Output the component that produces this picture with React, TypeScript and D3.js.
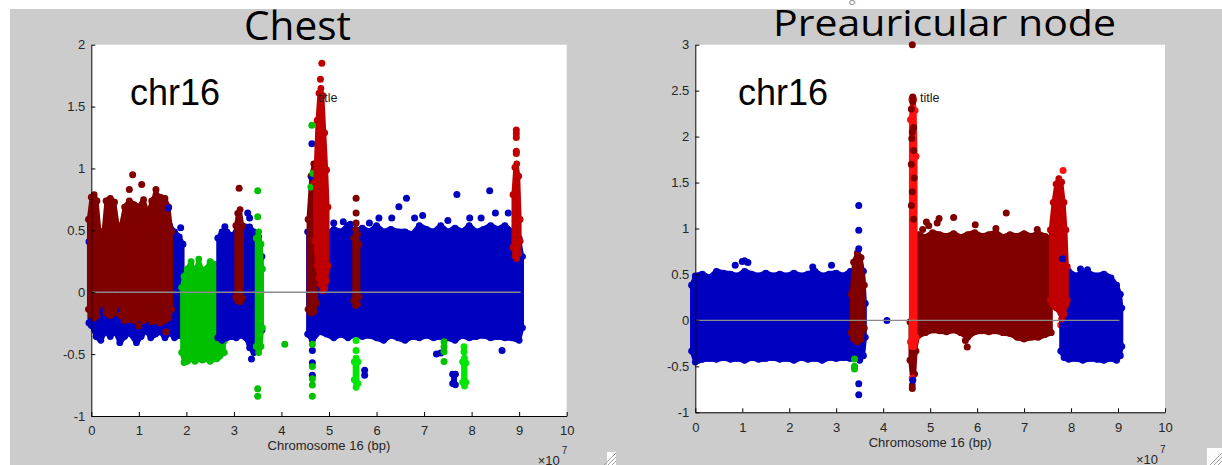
import React, { useEffect, useRef } from "react";
import * as d3 from "d3";

// positions along the chromosome are in units of 1e7 bp, as on the axis
type Band = [number, number, number][]; // [x, upper, lower]
type Dots = [number, number][];

const xTicks = [0, 1, 2, 3, 4, 5, 6, 7, 8, 9, 10];
const chestYTicks = [-1, -0.5, 0, 0.5, 1, 1.5, 2];
const nodeYTicks = [-1, -0.5, 0, 0.5, 1, 1.5, 2, 2.5, 3];
const chrEnd = 9.03;

/* ---------- Chest ---------- */
const chestBlue1: Band = [
  [-0.05, 0.42, -0.26], [0.0, 0.46, -0.28], [0.1, 0.48, -0.37], [0.2, 0.5, -0.4],
  [0.3, 0.52, -0.33], [0.4, 0.5, -0.37], [0.5, 0.5, -0.33], [0.6, 0.52, -0.42],
  [0.7, 0.5, -0.37], [0.8, 0.5, -0.34], [0.95, 0.5, -0.42], [1.05, 0.52, -0.37],
  [1.15, 0.5, -0.32], [1.25, 0.55, -0.38], [1.35, 0.5, -0.35], [1.45, 0.55, -0.33],
  [1.55, 0.5, -0.38], [1.65, 0.55, -0.34], [1.75, 0.5, -0.38], [1.85, 0.46, -0.36],
  [1.93, 0.4, -0.35],
];
const chestGreen: Band = [
  [1.9, 0.05, -0.5], [1.95, 0.14, -0.58], [2.02, 0.2, -0.57], [2.1, 0.26, -0.55],
  [2.18, 0.17, -0.57], [2.26, 0.28, -0.55], [2.34, 0.18, -0.56], [2.42, 0.2, -0.55],
  [2.5, 0.26, -0.57], [2.58, 0.24, -0.55], [2.64, 0.12, -0.55], [2.7, -0.3, -0.53],
  [2.8, -0.38, -0.5],
];
const chestBlue2: Band = [
  [2.66, 0.45, -0.38], [2.75, 0.5, -0.4], [2.85, 0.5, -0.38], [2.95, 0.47, -0.37],
  [3.05, 0.5, -0.38], [3.15, 0.5, -0.36], [3.25, 0.54, -0.38], [3.33, 0.54, -0.46],
  [3.42, 0.5, -0.5], [3.52, 0.46, -0.46], [3.59, 0.3, -0.32],
];
const chestBlue3: Band = [
  [4.55, 0.5, -0.35], [4.65, 0.55, -0.4], [4.8, 0.5, -0.33], [4.95, 0.48, -0.35],
  [5.1, 0.52, -0.38], [5.25, 0.5, -0.35], [5.4, 0.55, -0.38], [5.55, 0.5, -0.35],
  [5.7, 0.53, -0.37], [5.85, 0.5, -0.36], [6.0, 0.55, -0.38], [6.15, 0.5, -0.4],
  [6.3, 0.52, -0.36], [6.45, 0.5, -0.38], [6.6, 0.5, -0.4], [6.75, 0.48, -0.37],
  [6.9, 0.55, -0.38], [7.05, 0.52, -0.36], [7.2, 0.5, -0.38], [7.35, 0.55, -0.37],
  [7.5, 0.5, -0.38], [7.65, 0.53, -0.4], [7.8, 0.5, -0.36], [7.95, 0.55, -0.38],
  [8.1, 0.5, -0.37], [8.25, 0.52, -0.36], [8.4, 0.55, -0.38], [8.55, 0.52, -0.37],
  [8.7, 0.55, -0.38], [8.85, 0.5, -0.38], [9.0, 0.45, -0.4], [9.07, 0.3, -0.3],
];
const chestDark1: Band = [[-0.06, 0.6, -0.15], [0.0, 0.78, -0.2], [0.06, 0.8, -0.22], [0.12, 0.75, -0.2], [0.18, 0.5, -0.1]];
const chestDark2: Band = [[0.25, 0.5, -0.1], [0.31, 0.75, -0.18], [0.4, 0.77, -0.2], [0.49, 0.74, -0.18], [0.56, 0.55, -0.1]];
const chestDark3: Band = [
  [0.62, 0.55, -0.2], [0.7, 0.7, -0.24], [0.8, 0.75, -0.23], [0.9, 0.72, -0.24],
  [1.0, 0.7, -0.22], [1.1, 0.76, -0.24], [1.19, 0.65, -0.22],
];
const chestDark4: Band = [
  [1.17, 0.62, -0.2], [1.27, 0.75, -0.25], [1.36, 0.8, -0.24], [1.45, 0.78, -0.26],
  [1.55, 0.77, -0.24], [1.63, 0.7, -0.22], [1.69, 0.5, -0.15],
];
const chestDark5: Band = [[3.04, 0.55, -0.05], [3.08, 0.65, -0.08], [3.13, 0.68, -0.09], [3.18, 0.55, -0.06]];
const chestDark6: Band = [[4.56, 0.6, -0.15], [4.62, 0.95, -0.18], [4.68, 1.05, -0.17], [4.74, 0.8, -0.1]];
const chestDark7: Band = [[5.52, 0.45, -0.08], [5.56, 0.52, -0.12], [5.6, 0.48, -0.11], [5.63, 0.4, -0.05]];
const chestGreenCol: Band = [[3.47, 0.45, -0.45], [3.52, 0.5, -0.5], [3.57, 0.4, -0.45], [3.6, 0.2, -0.3]];
const chestLimeCol1: Band = [[5.53, -0.55, -0.72], [5.57, -0.52, -0.78], [5.61, -0.55, -0.75]];
const chestLimeCol2: Band = [[7.81, -0.55, -0.74], [7.85, -0.52, -0.77], [7.88, -0.56, -0.74]];
const chestBlueCol: Band = [[7.6, -0.65, -0.75], [7.66, -0.65, -0.76]];
const chestRed1: Band = [
  [4.7, 0.9, 0.4], [4.75, 1.4, 0.2], [4.79, 1.62, 0.1], [4.83, 1.66, 0.05],
  [4.87, 1.6, 0.0], [4.91, 1.3, 0.02], [4.95, 1.0, 0.08], [4.98, 0.7, 0.2],
];
const chestRed2: Band = [[8.87, 0.8, 0.35], [8.91, 1.02, 0.28], [8.95, 1.05, 0.26], [8.99, 0.95, 0.3], [9.02, 0.6, 0.4]];

const chestBlueDots: Dots = [
  [1.62, 0.68], [1.88, 0.52], [2.81, 0.53], [3.29, 0.64], [3.33, 0.6], [3.37, -0.54],
  [4.64, 1.2], [4.64, 0.93], [4.65, -0.47], [4.65, -0.57], [4.65, -0.67],
  [5.1, 0.56], [5.3, 0.57], [5.45, 0.55], [5.75, -0.63], [5.75, -0.67], [5.85, 0.56],
  [6.05, 0.6], [6.32, 0.6], [6.47, 0.69], [6.63, 0.76], [6.8, 0.6], [6.97, 0.62],
  [7.26, -0.5], [7.35, -0.49], [7.5, 0.58], [7.69, 0.79], [7.96, 0.6], [8.2, 0.6],
  [8.38, 0.82], [8.5, 0.64], [8.64, -0.47], [8.77, 0.64],
];
const chestDarkDots: Dots = [
  [0.8, 0.83], [0.87, 0.95], [1.06, 0.87], [1.36, 0.83], [1.57, -0.32], [1.0, -0.27],
  [3.11, 0.84], [5.57, 0.76], [5.57, 0.64], [5.57, 0.56],
];
const chestRedDots: Dots = [[4.85, 1.85], [4.82, 1.72], [8.94, 1.31], [8.94, 1.28], [8.94, 1.25], [8.94, 1.14], [8.94, 1.12]];
const chestGreenDots: Dots = [
  [3.5, 0.82], [3.5, 0.61], [3.5, -0.78], [3.5, -0.84], [4.07, -0.42],
  [4.64, 1.35], [4.66, 0.96], [4.62, 0.85], [4.65, -0.42], [4.65, -0.6],
  [4.65, -0.7], [4.65, -0.75], [4.65, -0.84],
  [7.42, -0.4], [7.42, -0.44], [7.42, -0.48], [7.42, -0.56],
];
const chestLimeDots: Dots = [[5.57, -0.39], [5.57, -0.47], [7.84, -0.44], [7.84, -0.48]];

/* ---------- Preauricular node ---------- */
const nodeBlue1: Band = [
  [-0.08, 0.4, -0.35], [0.0, 0.5, -0.47], [0.15, 0.52, -0.44], [0.3, 0.48, -0.43],
  [0.45, 0.55, -0.44], [0.6, 0.53, -0.42], [0.75, 0.52, -0.44], [0.9, 0.5, -0.43],
  [1.05, 0.55, -0.45], [1.2, 0.52, -0.42], [1.35, 0.5, -0.44], [1.5, 0.53, -0.43],
  [1.65, 0.5, -0.42], [1.8, 0.52, -0.44], [1.95, 0.5, -0.43], [2.1, 0.53, -0.45],
  [2.25, 0.5, -0.42], [2.4, 0.52, -0.44], [2.55, 0.55, -0.43], [2.7, 0.5, -0.45],
  [2.85, 0.52, -0.42], [3.0, 0.53, -0.43], [3.15, 0.5, -0.42], [3.3, 0.55, -0.43],
  [3.4, 0.5, -0.4], [3.5, 0.7, -0.45], [3.58, 0.55, -0.4], [3.62, 0.2, -0.2],
];
const nodeDark1: Band = [[3.32, 0.3, -0.15], [3.37, 0.65, -0.22], [3.45, 0.75, -0.25], [3.53, 0.7, -0.22], [3.6, 0.4, -0.1]];
const nodeDarkCol: Band = [[4.57, 0.0, -0.45], [4.62, 0.0, -0.72], [4.67, 0.0, -0.6], [4.7, 0.0, -0.35]];
const nodeDarkBlock: Band = [
  [4.68, 0.9, -0.35], [4.75, 0.95, -0.18], [4.9, 0.92, -0.15], [5.05, 0.97, -0.12],
  [5.2, 0.95, -0.13], [5.35, 0.93, -0.14], [5.5, 0.96, -0.12], [5.65, 0.92, -0.15],
  [5.8, 0.95, -0.2], [5.95, 0.97, -0.14], [6.1, 0.93, -0.13], [6.25, 0.95, -0.14],
  [6.4, 0.97, -0.13], [6.55, 0.92, -0.15], [6.7, 0.95, -0.16], [6.85, 0.93, -0.2],
  [7.0, 0.96, -0.22], [7.15, 0.93, -0.2], [7.3, 0.96, -0.2], [7.45, 0.93, -0.17],
  [7.58, 0.9, -0.15],
];
const nodeBright: Band = [[4.58, 2.2, -0.25], [4.61, 2.42, -0.3], [4.65, 2.42, -0.3], [4.68, 2.3, -0.25], [4.7, 1.8, -0.2]];
const nodeBlue2: Band = [
  [7.78, 0.1, -0.35], [7.85, 0.52, -0.42], [7.95, 0.55, -0.44], [8.1, 0.5, -0.43],
  [8.25, 0.53, -0.45], [8.4, 0.52, -0.43], [8.55, 0.5, -0.44], [8.7, 0.52, -0.45],
  [8.85, 0.48, -0.43], [8.97, 0.4, -0.45], [9.05, 0.3, -0.4], [9.08, 0.15, -0.3],
];
const nodeRed: Band = [
  [7.56, 1.0, 0.2], [7.62, 1.3, 0.15], [7.68, 1.5, 0.12], [7.74, 1.56, 0.1],
  [7.8, 1.52, 0.0], [7.85, 1.3, 0.05], [7.89, 1.0, 0.15], [7.92, 0.6, 0.2],
];

const nodeBlueDots: Dots = [
  [0.85, 0.6], [1.0, 0.64], [1.05, 0.65], [1.12, 0.63], [2.5, 0.58], [2.9, 0.6],
  [3.48, 1.25], [3.48, 0.98], [3.48, 0.78], [3.48, -0.69], [3.48, -0.81], [4.08, 0.0],
  [4.63, -0.65], [7.82, 0.67], [8.2, 0.56], [8.35, 0.55],
];
const nodeDarkDots: Dots = [
  [4.62, 3.0], [4.63, 2.43], [4.63, 2.38], [4.6, 2.3], [4.65, 2.1], [4.62, 2.05],
  [4.61, 1.98], [4.65, 1.85], [4.6, 1.7], [4.66, 1.55], [4.62, 1.4], [4.6, 1.25],
  [4.65, 1.1], [4.62, -0.74],
  [4.84, 0.99], [4.92, 1.07], [4.97, 1.03], [5.15, 1.06], [5.19, 1.11], [5.5, 1.12],
  [5.96, 1.04], [6.4, 1.0], [6.62, 1.17], [7.28, 0.99], [5.75, -0.22], [5.79, -0.29],
];
const nodeRedDots: Dots = [[7.83, 1.63], [7.78, -0.05], [4.62, -0.63]];
const nodeGreenDots: Dots = [[3.39, -0.42], [3.39, -0.5], [3.39, -0.53]];

const C = {
  blue: "#0000c0",
  dark: "#800000",
  red: "#c00000",
  bright: "#ff1010",
  green: "#00c000",
  lime: "#00e600",
};

type Layer = { band?: Band; dots?: Dots; color: string };

const panels = [
  {
    left: 91.3, right: 566.7, top: 44.7, bottom: 416, yDomain: [-1, 2], yTicks: chestYTicks,
    title: "Chest", titleX: 297.5, titleY: 40, titleSize: 40, titleLen: 107,
    chrX: 130, labelX: 318, xlabelY: 450, expY: 465,
    layers: [
      { band: chestBlue1, color: C.blue }, { band: chestGreen, color: C.green },
      { band: chestBlue2, color: C.blue }, { band: chestBlue3, color: C.blue },
      { band: chestDark1, color: C.dark }, { band: chestDark2, color: C.dark },
      { band: chestDark3, color: C.dark }, { band: chestDark4, color: C.dark },
      { band: chestDark5, color: C.dark }, { band: chestGreenCol, color: C.green },
      { band: chestDark6, color: C.dark }, { band: chestDark7, color: C.dark },
      { band: chestLimeCol1, color: C.lime }, { band: chestLimeCol2, color: C.lime },
      { band: chestBlueCol, color: C.blue },
      { dots: chestBlueDots, color: C.blue }, { dots: chestGreenDots, color: C.green },
      { dots: chestLimeDots, color: C.lime }, { dots: chestDarkDots, color: C.dark },
      { band: chestRed1, color: C.red }, { band: chestRed2, color: C.red },
      { dots: chestRedDots, color: C.red },
    ] as Layer[],
  },
  {
    left: 695.3, right: 1165, top: 44.7, bottom: 412.3, yDomain: [-1, 3], yTicks: nodeYTicks,
    title: "Preauricular node", titleX: 944.5, titleY: 36, titleSize: 36, titleLen: 343,
    chrX: 738, labelX: 920, xlabelY: 447, expY: 464,
    layers: [
      { band: nodeBlue1, color: C.blue }, { band: nodeDark1, color: C.dark },
      { dots: nodeGreenDots, color: C.green },
      { band: nodeDarkBlock, color: C.dark }, { band: nodeDarkCol, color: C.dark },
      { band: nodeBright, color: C.bright }, { dots: nodeRedDots, color: C.bright },
      { dots: nodeDarkDots, color: C.dark }, { band: nodeBlue2, color: C.blue },
      { band: nodeRed, color: C.red }, { dots: nodeBlueDots, color: C.blue },
    ] as Layer[],
  },
];

const W = 1222;
const H = 465;
const tickFont = "'Liberation Sans', Arial, Helvetica, sans-serif";

const App = () => {
  const ref = useRef<SVGSVGElement>(null);

  useEffect(() => {
    const svg = d3.select(ref.current);
    svg.selectAll("*").remove();

    svg.append("rect").attr("width", W).attr("height", H).attr("fill", "#fff");
    svg.append("rect").attr("x", 10).attr("y", 9).attr("width", W - 10).attr("height", H - 9).attr("fill", "#cccccc");

    panels.forEach((p) => {
      const x = d3.scaleLinear().domain([0, 10]).range([p.left, p.right]);
      const y = d3.scaleLinear().domain(p.yDomain).range([p.bottom, p.top]);
      const g = svg.append("g");

      g.append("rect")
        .attr("x", p.left).attr("y", p.top)
        .attr("width", p.right - p.left).attr("height", p.bottom - p.top)
        .attr("fill", "#fff");

      const area = d3
        .area<[number, number, number]>()
        .x((d) => x(d[0]))
        .y0((d) => y(d[2]))
        .y1((d) => y(d[1]));

      p.layers.forEach((l) => {
        if (l.band) {
          g.append("path")
            .attr("d", area(l.band))
            .attr("fill", l.color)
            .attr("stroke", l.color)
            .attr("stroke-width", 3)
            .attr("stroke-linejoin", "round");
          // marker bumps along the edges of the cloud
          const edge = l.band.flatMap((d) => [
            [x(d[0]), y(d[1]) + 1.5],
            [x(d[0]), y(d[2]) - 1.5],
          ]);
          g.append("g")
            .selectAll("circle")
            .data(edge)
            .join("circle")
            .attr("cx", (d) => d[0])
            .attr("cy", (d) => d[1])
            .attr("r", 3.4)
            .attr("fill", l.color);
        }
        if (l.dots) {
          g.append("g")
            .selectAll("circle")
            .data(l.dots)
            .join("circle")
            .attr("cx", (d) => x(d[0]))
            .attr("cy", (d) => y(d[1]))
            .attr("r", 3.5)
            .attr("fill", l.color);
        }
      });

      g.append("line")
        .attr("x1", x(0)).attr("x2", x(chrEnd))
        .attr("y1", y(0)).attr("y2", y(0))
        .attr("stroke", "#8a8a8a")
        .attr("stroke-width", 1.3);

      const gx = g.append("g")
        .attr("transform", `translate(0,${p.bottom})`)
        .call(d3.axisBottom(x).tickValues(xTicks).tickSizeInner(-4).tickSizeOuter(0).tickPadding(10).tickFormat((d) => String(d)));
      const gy = g.append("g")
        .attr("transform", `translate(${p.left},0)`)
        .call(d3.axisLeft(y).tickValues(p.yTicks).tickSizeInner(-4).tickSizeOuter(0).tickPadding(6).tickFormat((d) => String(d)));
      [gx, gy].forEach((a) => {
        a.selectAll("text").attr("font-family", tickFont).attr("font-size", 13).attr("fill", "#262626");
        a.selectAll("line").attr("stroke", "#000");
        a.select(".domain").attr("stroke", "#000");
      });

      g.append("text")
        .attr("x", (p.left + p.right) / 2).attr("y", p.xlabelY)
        .attr("text-anchor", "middle")
        .attr("font-family", tickFont).attr("font-size", 13).attr("fill", "#262626")
        .text("Chromosome 16 (bp)");
      g.append("text")
        .attr("x", p.right - 7).attr("y", p.expY)
        .attr("text-anchor", "end")
        .attr("font-family", tickFont).attr("font-size", 13).attr("fill", "#262626")
        .text("×10");
      g.append("text")
        .attr("x", p.right - 5).attr("y", p.expY - 11)
        .attr("font-family", tickFont).attr("font-size", 10).attr("fill", "#262626")
        .text("7");

      g.append("text")
        .attr("x", p.chrX).attr("y", 105)
        .attr("font-family", tickFont).attr("font-size", 36).attr("fill", "#000")
        .text("chr16");
      g.append("text")
        .attr("x", p.labelX).attr("y", 102)
        .attr("font-family", tickFont).attr("font-size", 12.5).attr("fill", "#1a1a1a")
        .text("title");

      g.append("text")
        .attr("x", p.titleX).attr("y", p.titleY)
        .attr("text-anchor", "middle")
        .attr("font-family", "'Open Sans', 'Noto Sans', sans-serif")
        .attr("font-size", p.titleSize)
        .attr("textLength", p.titleLen)
        .attr("lengthAdjust", "spacingAndGlyphs")
        .attr("fill", "#000")
        .text(p.title);
    });

    // stray glyph above the second screenshot
    svg.append("text")
      .attr("x", 852).attr("y", 5).attr("text-anchor", "middle")
      .attr("font-family", tickFont).attr("font-size", 13).attr("fill", "#9a9a9a")
      .text("8");

    // window resize grips at the bottom of each screenshot
    const grips = [
      { x: 607, y: 452, w: 9, h: 13 },
      { x: 1207, y: 448, w: 15, h: 17 },
    ];
    grips.forEach((r) => {
      svg.append("rect").attr("x", r.x).attr("y", r.y).attr("width", r.w).attr("height", r.h).attr("fill", "#fdfdfd");
      [4, 8, 12].forEach((o) => {
        svg.append("line")
          .attr("x1", r.x + r.w - o).attr("y1", r.y + r.h)
          .attr("x2", r.x + r.w).attr("y2", r.y + r.h - o)
          .attr("stroke", "#a0a0a0").attr("stroke-width", 1);
      });
    });
  }, []);

  return (
    <svg
      ref={ref}
      width={W}
      height={H}
      style={{ position: "absolute", left: 0, top: 0, display: "block" }}
    />
  );
};

export default App;
